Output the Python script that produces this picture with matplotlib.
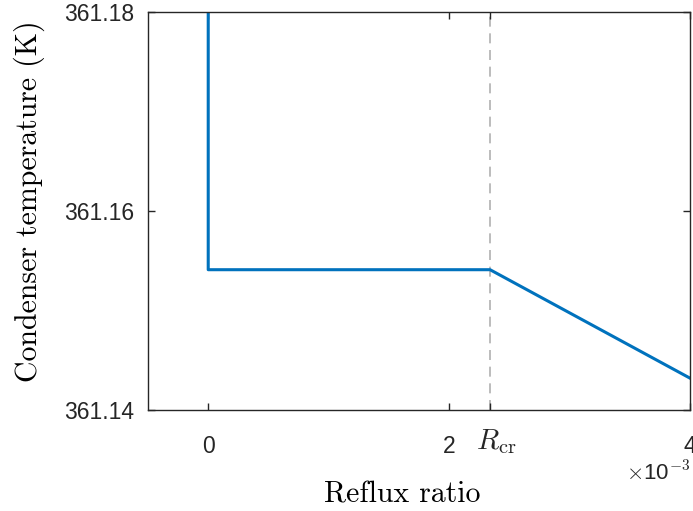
import numpy as np
import matplotlib.pyplot as plt
import matplotlib.transforms as mtransforms

# condenser temperature vs reflux ratio
R_cr = 2.34e-3
reflux = [0.0, 0.0, R_cr, 4.0e-3]
temp = [361.18, 361.1541, 361.1541, 361.1432]

xticks = [0, 2e-3, R_cr, 4e-3]
xticklabels = ['0', '2', r'$R_{\rm cr}$', '4']
yticks = [361.14, 361.16, 361.18]
yticklabels = ['361.14', '361.16', '361.18']

plt.rcParams['mathtext.fontset'] = 'cm'
axcol = '#262626'

fig = plt.figure(figsize=(6.93, 5.11), dpi=100)
ax = fig.add_axes([148/693, 1 - 410/511, 542/693, 398/511])

ax.axvline(R_cr, color='#b0b0b0', lw=1.2, ls=(0, (6, 4)), zorder=1)
ax.plot(reflux, temp, color='#0072BD', lw=2.2, zorder=2)

ax.set_xlim(-0.5e-3, 4e-3)
ax.set_ylim(361.14, 361.18)
ax.set_xticks(xticks)
ax.set_xticklabels(xticklabels)
ax.set_yticks(yticks)
ax.set_yticklabels(yticklabels)

ax.tick_params(direction='in', length=5, width=1, colors=axcol,
               top=True, right=True, labelsize=16.5)
ax.tick_params(axis='x', pad=18)
ax.tick_params(axis='y', pad=10)
for lab in ax.get_xticklabels() + ax.get_yticklabels():
    lab.set_family('Liberation Sans')

# R_cr label sits a bit higher and right of its tick
rlab = ax.get_xticklabels()[2]
rlab.set_fontsize(21)
rlab.set_transform(rlab.get_transform() +
                   mtransforms.ScaledTranslation(6/100, 8/100, fig.dpi_scale_trans))

for s in ax.spines.values():
    s.set_color(axcol)
    s.set_linewidth(1)

ax.set_xlabel('Reflux ratio', fontsize=21.5, family='cmr10')
ax.set_ylabel('Condenser temperature (K)', fontsize=21.5, family='cmr10')
ax.xaxis.set_label_coords(0.47, -0.178)
ax.yaxis.set_label_coords(-0.19, 0.525)

# exponent marker for the x axis
ax.text(1.0, -0.16, r'$\times$10$^{-3}$', transform=ax.transAxes,
        ha='right', va='center', fontsize=16, color=axcol, family='Liberation Sans')

fig.savefig('out.png', dpi=100)
